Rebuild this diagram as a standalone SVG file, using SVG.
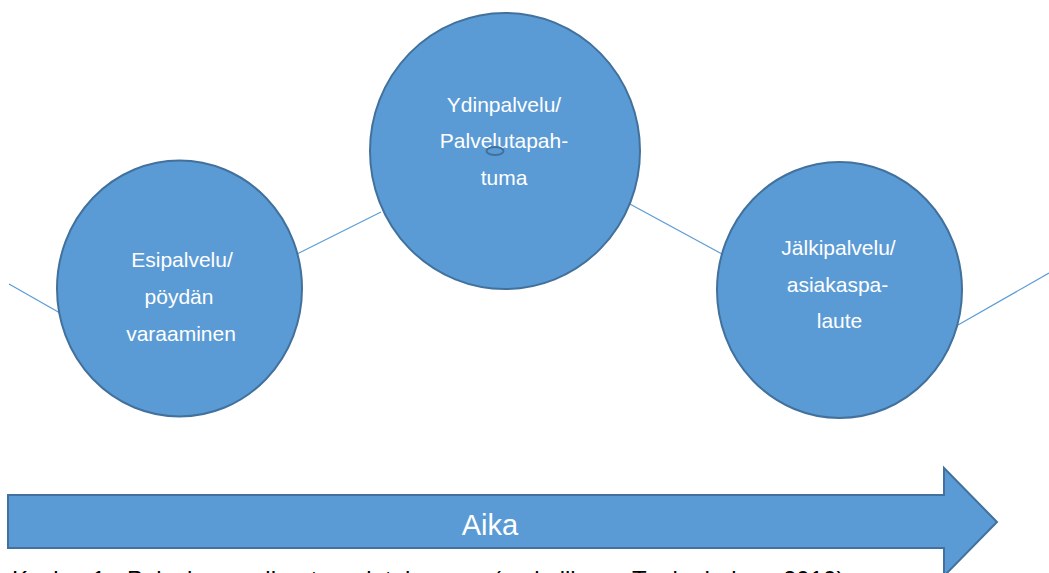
<svg xmlns="http://www.w3.org/2000/svg" width="1049" height="573" viewBox="0 0 1049 573">
  <style>
    .bubble { fill: #5b9bd5; stroke: #41719c; stroke-width: 2; }
    .link { stroke: #5b9bd5; stroke-width: 1.2; fill: none; }
    .label { font-family: "Liberation Sans", Arial, sans-serif; font-size: 21px; fill: #ffffff; text-anchor: middle; }
    .time { font-family: "Liberation Sans", Arial, sans-serif; font-size: 29px; fill: #ffffff; text-anchor: middle; }
    .caption { font-family: "Liberation Sans", Arial, sans-serif; font-size: 24px; fill: #000000; }
  </style>
  <rect width="1049" height="573" fill="#ffffff"/>

  <!-- connectors between the service phases -->
  <g id="connectors">
    <line class="link" x1="9" y1="284" x2="60" y2="313"/>
    <line class="link" x1="297" y1="254" x2="381" y2="212"/>
    <line class="link" x1="628" y1="203" x2="722" y2="254"/>
    <line class="link" x1="958" y1="325" x2="1049" y2="273"/>
  </g>

  <g id="esipalvelu">
    <ellipse class="bubble" cx="179.5" cy="288.5" rx="122.5" ry="128"/>
    <text class="label" x="182" y="267">Esipalvelu/</text>
    <text class="label" x="179" y="304">pöydän</text>
    <text class="label" x="181" y="341">varaaminen</text>
  </g>

  <g id="ydinpalvelu">
    <ellipse class="bubble" cx="505" cy="151" rx="135" ry="138"/>
    <text class="label" x="504" y="112">Ydinpalvelu/</text>
    <text class="label" x="504" y="148">Palvelutapah-</text>
    <text class="label" x="504" y="185">tuma</text>
    <ellipse cx="495" cy="151" rx="8.5" ry="4" fill="none" stroke="#41719c" stroke-width="2"/>
  </g>

  <g id="jalkipalvelu">
    <ellipse class="bubble" cx="839.5" cy="290" rx="122.5" ry="128"/>
    <text class="label" x="838.5" y="255">Jälkipalvelu/</text>
    <text class="label" x="837.5" y="292">asiakaspa-</text>
    <text class="label" x="839.5" y="328">laute</text>
  </g>

  <g id="aika">
    <polygon class="bubble" points="8,495 944,495 944,468 997,522 944,576 944,548 8,548"/>
    <text class="time" x="490" y="535">Aika</text>
  </g>

  <text class="caption" y="588"><tspan x="12">Kuvio</tspan><tspan x="92">1.</tspan><tspan x="127">Palvelun</tspan><tspan x="240">vaiheet</tspan><tspan x="333">ravintolassa</tspan><tspan x="493">(mukaillen</tspan><tspan x="632">Tuulenheimo</tspan><tspan x="783">2010)</tspan></text>
</svg>
